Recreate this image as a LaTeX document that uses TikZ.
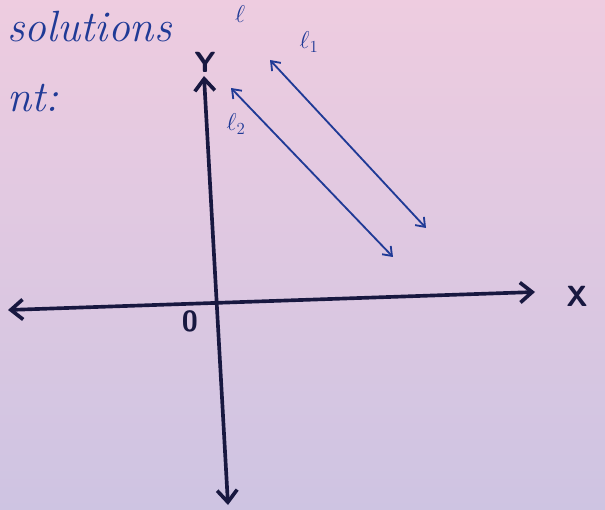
\documentclass[tikz,border=0pt]{standalone}
\usepackage{amsmath,amssymb}
\usetikzlibrary{arrows.meta}
\usetikzlibrary{positioning}
\definecolor{PaperPink}{RGB}{238,204,224}
\definecolor{PaperLilac}{RGB}{206,196,226}
\definecolor{InkDark}{RGB}{24,24,64}
\definecolor{InkBlue}{RGB}{32,58,150}
\tikzset{
	>={Straight Barb[length=3mm, width=5mm]},
	axis/.style={InkDark, line width=2.6pt, <->, line cap=round},
	ray/.style={InkBlue, line width=1.3pt, <->, >={Straight Barb[length=2mm, width=3mm]}, line cap=round},
	axlabel/.style={InkDark, font=\huge\bfseries\sffamily},
	linelabel/.style={InkBlue, font=\LARGE},
	scribble/.style={InkBlue, font=\huge\itshape, anchor=base west, scale=1.5}
}

\begin{document}
\begin{tikzpicture}[x=0.025cm, y=-0.025cm, line join=round]
		% paper
		\useasboundingbox (0,0) rectangle (605,510);
		\clip (0,0) rectangle (605,510);
		\shade[top color=PaperPink, bottom color=PaperLilac] (0,0) rectangle (605,510);
		
		% scraps of text from the page
		\node[scribble] (sol) at (0,42) {solutions};
		\node[scribble] (nt) at (0,112) {nt:};
		\node[linelabel] (topl) at (240,14) {$\ell$};
		
		% axes
		\coordinate (xl) at (8,310);
		\coordinate (xr) at (535,292);
		\coordinate (yt) at (204,76);
		\coordinate (yb) at (228,505);
		\draw[axis] (xl) -- (xr);
		\draw[axis] (yt) -- (yb);
		\node[axlabel] (xlab) at (577,296) {X};
		\node[axlabel] (ylab) at (205,62) {Y};
		\node[axlabel] (orig) at (190,321) {0};
		
		% the two lines
		\coordinate (a1) at (270,60);
		\coordinate (b1) at (426,228);
		\coordinate (a2) at (231,88);
		\coordinate (b2) at (393,257);
		\draw[ray] (a1) -- (b1);
		\draw[ray] (a2) -- (b2);
		\node[linelabel] (l1) at (309,42) {$\ell_1$};
		\node[linelabel] (l2) at (236,124) {$\ell_2$};
	\end{tikzpicture}
\end{document}
